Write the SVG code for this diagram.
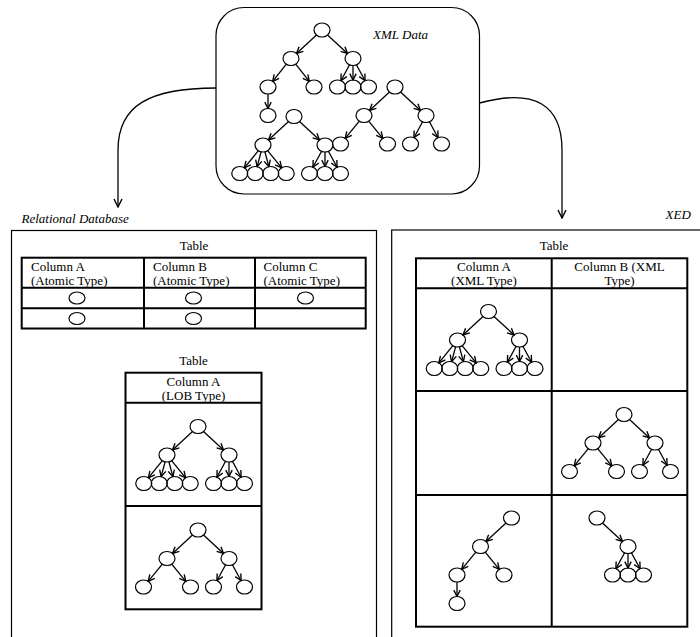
<svg xmlns="http://www.w3.org/2000/svg" xmlns:xlink="http://www.w3.org/1999/xlink" width="700" height="637" viewBox="0 0 700 637">
<style>
.box{fill:none;stroke:#000;stroke-width:1.2}
.tb{fill:none;stroke:#000;stroke-width:2}
.n{fill:none;stroke:#000;stroke-width:1.2}
.e{fill:none;stroke:#000;stroke-width:1.3;marker-end:url(#ah)}
.big{fill:none;stroke:#000;stroke-width:1.3;marker-end:url(#bh)}
.t{font-family:"Liberation Serif","Times New Roman",serif;font-size:13px;fill:#000}
.i{font-style:italic}
.m{text-anchor:middle}
</style>
<defs>
<marker id="ah" viewBox="0 0 10 10" refX="9" refY="5" markerWidth="8" markerHeight="8" markerUnits="userSpaceOnUse" orient="auto">
<path d="M1,1 L9,5 L1,9" fill="none" stroke="#000" stroke-width="1.7"/>
</marker>
<marker id="bh" viewBox="0 0 10 10" refX="9" refY="5" markerWidth="10" markerHeight="10" markerUnits="userSpaceOnUse" orient="auto">
<path d="M1,1 L9,5 L1,9" fill="none" stroke="#000" stroke-width="1.4"/>
</marker>
<g id="t1">
<ellipse class="n" cx="0" cy="0" rx="8" ry="7"/>
<ellipse class="n" cx="-31" cy="28.5" rx="8" ry="7"/>
<ellipse class="n" cx="31" cy="28.5" rx="8" ry="7"/>
<ellipse class="n" cx="-54.25" cy="57" rx="8" ry="7"/>
<ellipse class="n" cx="-38.75" cy="57" rx="8" ry="7"/>
<ellipse class="n" cx="-23.25" cy="57" rx="8" ry="7"/>
<ellipse class="n" cx="-7.75" cy="57" rx="8" ry="7"/>
<ellipse class="n" cx="15.5" cy="57" rx="8" ry="7"/>
<ellipse class="n" cx="31" cy="57" rx="8" ry="7"/>
<ellipse class="n" cx="46.5" cy="57" rx="8" ry="7"/>
<path class="e" d="M-5.5,5.1 L-25.5,23.4"/>
<path class="e" d="M5.5,5.1 L25.5,23.4"/>
<path class="e" d="M-35.6,34.2 L-49.65,51.3"/>
<path class="e" d="M-32.9,35.3 L-36.9,50.2"/>
<path class="e" d="M-29.1,35.3 L-25.1,50.2"/>
<path class="e" d="M-26.4,34.2 L-12.35,51.3"/>
<path class="e" d="M27.6,34.8 L18.9,50.7"/>
<path class="e" d="M31,35.5 L31,50"/>
<path class="e" d="M34.4,34.8 L43.1,50.7"/>
</g>
<g id="t2">
<ellipse class="n" cx="0" cy="0" rx="8" ry="7"/>
<ellipse class="n" cx="-31" cy="28.5" rx="8" ry="7"/>
<ellipse class="n" cx="31" cy="28.5" rx="8" ry="7"/>
<ellipse class="n" cx="-54.5" cy="57" rx="8" ry="7"/>
<ellipse class="n" cx="-7.5" cy="57" rx="8" ry="7"/>
<ellipse class="n" cx="15.5" cy="57" rx="8" ry="7"/>
<ellipse class="n" cx="46.5" cy="57" rx="8" ry="7"/>
<path class="e" d="M-5.5,5.1 L-25.5,23.4"/>
<path class="e" d="M5.5,5.1 L25.5,23.4"/>
<path class="e" d="M-35.7,34.2 L-49.8,51.3"/>
<path class="e" d="M-26.3,34.2 L-12.2,51.3"/>
<path class="e" d="M27.6,34.8 L18.9,50.7"/>
<path class="e" d="M34.4,34.8 L43.1,50.7"/>
</g>
<g id="t3">
<ellipse class="n" cx="0" cy="0" rx="8" ry="7"/>
<ellipse class="n" cx="-31" cy="28.5" rx="8" ry="7"/>
<ellipse class="n" cx="-54.5" cy="57" rx="8" ry="7"/>
<ellipse class="n" cx="-7.5" cy="57" rx="8" ry="7"/>
<ellipse class="n" cx="-54.5" cy="85.5" rx="8" ry="7"/>
<path class="e" d="M-5.5,5.1 L-25.5,23.4"/>
<path class="e" d="M-35.7,34.2 L-49.8,51.3"/>
<path class="e" d="M-26.3,34.2 L-12.2,51.3"/>
<path class="e" d="M-54.5,64 L-54.5,78.5"/>
</g>
<g id="t4">
<ellipse class="n" cx="0" cy="0" rx="8" ry="7"/>
<ellipse class="n" cx="31" cy="28.5" rx="8" ry="7"/>
<ellipse class="n" cx="15.5" cy="57" rx="8" ry="7"/>
<ellipse class="n" cx="31" cy="57" rx="8" ry="7"/>
<ellipse class="n" cx="46.5" cy="57" rx="8" ry="7"/>
<path class="e" d="M5.5,5.1 L25.5,23.4"/>
<path class="e" d="M27.6,34.8 L18.9,50.7"/>
<path class="e" d="M31,35.5 L31,50"/>
<path class="e" d="M34.4,34.8 L43.1,50.7"/>
</g>
</defs>
<rect width="700" height="637" fill="#fff"/>

<g id="xml-data">
<rect class="box" x="216" y="7.5" width="263.5" height="186.5" rx="28" ry="28"/>
<text class="t i" x="373" y="39">XML Data</text>
<g id="xml-tree-1">
<ellipse class="n" cx="322" cy="30" rx="8" ry="7"/>
<ellipse class="n" cx="291" cy="58.5" rx="8" ry="7"/>
<ellipse class="n" cx="353" cy="58.5" rx="8" ry="7"/>
<ellipse class="n" cx="268" cy="87" rx="8" ry="7"/>
<ellipse class="n" cx="314" cy="87" rx="8" ry="7"/>
<ellipse class="n" cx="337.5" cy="87" rx="8" ry="7"/>
<ellipse class="n" cx="353" cy="87" rx="8" ry="7"/>
<ellipse class="n" cx="368.5" cy="87" rx="8" ry="7"/>
<ellipse class="n" cx="268" cy="115.5" rx="8" ry="7"/>
<path class="e" d="M316.5,35.1 L296.5,53.4"/>
<path class="e" d="M327.5,35.1 L347.5,53.4"/>
<path class="e" d="M286.3,64.2 L272.7,81.3"/>
<path class="e" d="M295.7,64.2 L309.3,81.3"/>
<path class="e" d="M349.6,64.8 L340.9,80.7"/>
<path class="e" d="M353,65.5 L353,80"/>
<path class="e" d="M356.4,64.8 L365.1,80.7"/>
<path class="e" d="M268,94 L268,108.5"/>
</g>
<use id="xml-tree-2" xlink:href="#t2" href="#t2" x="395" y="87"/>
<use id="xml-tree-3" xlink:href="#t1" href="#t1" x="294" y="116.5"/>
</g>

<g id="connectors">
<path class="big" d="M216,88 C150,88 118,105 118,150 L118,207"/>
<path class="big" d="M479.5,103 C535,88 562,105 562,150 L562,218"/>
</g>

<g id="relational-database">
<rect class="box" x="11.5" y="230.5" width="365" height="430"/>
<text class="t i" x="21.5" y="223">Relational Database</text>
<g id="atomic-table">
<text class="t m" x="194" y="250">Table</text>
<rect class="tb" x="21.7" y="257.7" width="344" height="70.8"/>
<path class="tb" d="M144,257.7 V328.5 M255,257.7 V328.5 M21.7,287.7 H365.7 M21.7,308.3 H365.7"/>
<text class="t" x="31" y="271">Column A</text>
<text class="t" x="31" y="284.5">(Atomic Type)</text>
<text class="t" x="153" y="271">Column B</text>
<text class="t" x="153" y="284.5">(Atomic Type)</text>
<text class="t" x="263.5" y="271">Column C</text>
<text class="t" x="263.5" y="284.5">(Atomic Type)</text>
<ellipse class="n" cx="77" cy="298" rx="8" ry="6"/>
<ellipse class="n" cx="193.5" cy="298" rx="8" ry="6"/>
<ellipse class="n" cx="305.5" cy="298" rx="8" ry="6"/>
<ellipse class="n" cx="77" cy="318.5" rx="8" ry="6"/>
<ellipse class="n" cx="193.5" cy="318.5" rx="8" ry="6"/>
</g>
<g id="lob-table">
<text class="t m" x="193.5" y="365">Table</text>
<rect class="tb" x="125.5" y="372.7" width="136" height="236.6"/>
<path class="tb" d="M125.5,402.7 H261.5 M125.5,506 H261.5"/>
<text class="t m" x="193.5" y="386">Column A</text>
<text class="t m" x="193.5" y="399.5">(LOB Type)</text>
<use xlink:href="#t1" href="#t1" x="198" y="426.5"/>
<use xlink:href="#t2" href="#t2" x="198" y="530"/>
</g>
</g>

<g id="xed">
<rect class="box" x="391.7" y="230" width="340" height="430"/>
<text class="t i" x="665.5" y="219">XED</text>
<g id="xml-table">
<text class="t m" x="554" y="250">Table</text>
<rect class="tb" x="416" y="258.3" width="271.3" height="368.4"/>
<path class="tb" d="M551.7,258.3 V626.7 M416,288.3 H687.3 M416,391 H687.3 M416,495 H687.3"/>
<text class="t m" x="484" y="271">Column A</text>
<text class="t m" x="484" y="284.5">(XML Type)</text>
<text class="t m" x="619.5" y="271">Column B (XML</text>
<text class="t m" x="619.5" y="284.5">Type)</text>
<use xlink:href="#t1" href="#t1" x="488.5" y="311.5"/>
<use xlink:href="#t2" href="#t2" x="624" y="414.5"/>
<use xlink:href="#t3" href="#t3" x="511.5" y="518"/>
<use xlink:href="#t4" href="#t4" x="597" y="518"/>
</g>
</g>
</svg>
